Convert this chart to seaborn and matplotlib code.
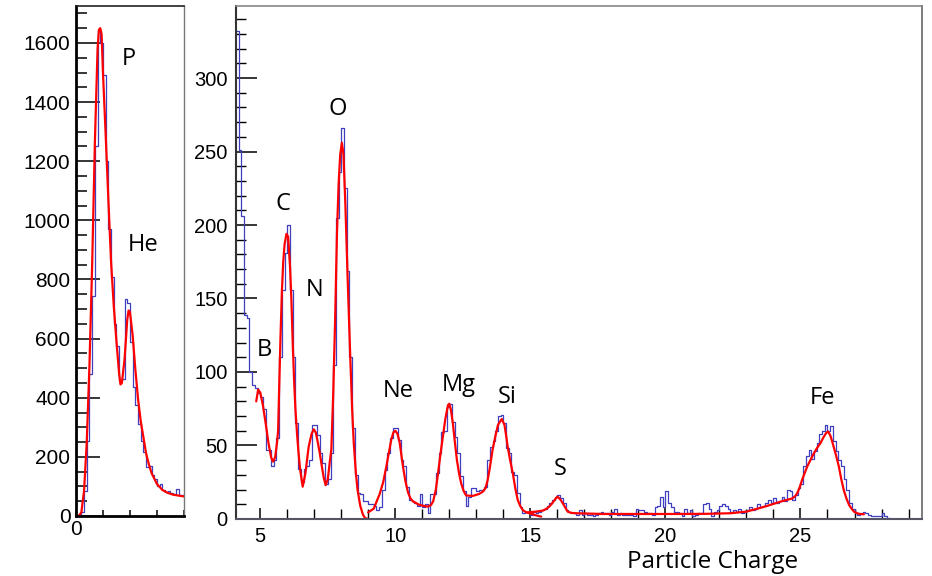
import numpy as np
import pandas as pd
import matplotlib
matplotlib.use('Agg')
import matplotlib.pyplot as plt
from matplotlib.ticker import MultipleLocator
import seaborn as sns

# ---- left panel: P / He, 0.1 wide bins from 0 to 4
left_start, left_width = 0.0, 0.1
hist_left = [0, 5, 15, 85, 255, 480, 745, 1250, 1640, 1600,
             1490, 1200, 970, 810, 650, 575, 455, 465, 735, 720,
             590, 435, 375, 310, 255, 215, 165, 168, 140, 125,
             100, 108, 88, 80, 84, 78, 75, 90, 72, 70]

fit_left_x = [0.1, 0.2, 0.3, 0.4, 0.5, 0.6, 0.7, 0.8, 0.85, 0.9, 0.95, 1.0, 1.1, 1.2, 1.3,
              1.4, 1.5, 1.6, 1.65, 1.7, 1.8, 1.9, 1.95, 2.0, 2.1, 2.2, 2.3, 2.4, 2.5,
              2.6, 2.7, 2.8, 3.0, 3.2, 3.4, 3.6, 3.8, 4.0]
fit_left_y = [0, 12, 85, 250, 510, 850, 1260, 1580, 1645, 1650, 1630, 1500, 1290, 1070, 860,
              710, 590, 480, 445, 450, 530, 665, 695, 690, 610, 495, 395, 320, 265,
              210, 175, 145, 108, 88, 78, 72, 69, 66]

# ---- right panel: heavier nuclei, 0.1 wide bins from 4.1
right_start, right_width = 4.1, 0.1
hist_right = [332, 251, 206, 139, 137, 100, 91, 89, 86, 83,
              75, 47, 47, 36, 40, 55, 110, 156, 181, 200,
              156, 110, 65, 34, 25, 34, 36, 40, 64, 64,
              57, 45, 38, 24, 27, 45, 105, 205, 236, 266,
              225, 169, 110, 62, 30, 18, 17, 12, 12, 10,
              10, 9, 6, 8, 20, 33, 45, 55, 62, 62,
              54, 40, 36, 22, 13, 12, 11, 9, 17, 8,
              10, 4, 17, 17, 31, 45, 59, 60, 76, 78,
              66, 56, 45, 29, 19, 9, 15, 21, 21, 19,
              20, 20, 22, 40, 49, 53, 60, 70, 71, 65,
              48, 45, 32, 30, 18, 8, 4, 5, 5, 3,
              5, 4, 5, 6, 7, 9, 11, 13, 15, 16,
              14, 11, 6, 5, 4, 4, 3, 6, 3, 4,
              3, 3, 2, 3, 4, 5, 4, 4, 3, 5,
              7, 3, 4, 3, 3, 3, 3, 2, 7, 6,
              6, 5, 4, 4, 3, 8, 9, 15, 8, 19,
              11, 8, 5, 5, 4, 2, 7, 4, 6, 2,
              3, 4, 4, 10, 11, 7, 2, 5, 6, 9,
              10, 9, 7, 5, 6, 5, 7, 4, 5, 6,
              8, 6, 7, 10, 8, 9, 11, 13, 11, 14,
              11, 12, 15, 12, 20, 19, 13, 16, 21, 24,
              36, 43, 47, 41, 46, 52, 58, 60, 64, 60,
              63, 53, 46, 40, 36, 27, 20, 11, 7, 4,
              3, 4, 5, 4, 3, 2, 2, 2, 2, 4,
              2, 1]

# fit pieces (B..O, Ne..Si, S..Fe)
fit1_x = [4.85, 4.92, 5.0, 5.1, 5.2, 5.3, 5.4, 5.47, 5.55, 5.62, 5.66, 5.7, 5.75, 5.8, 5.85,
          5.9, 5.97, 6.03, 6.1, 6.15, 6.2, 6.25, 6.3, 6.36, 6.42, 6.48, 6.57, 6.67, 6.79,
          6.9, 6.98, 7.05, 7.1, 7.2, 7.26, 7.35, 7.42, 7.5, 7.58, 7.63, 7.7, 7.77, 7.84,
          7.9, 7.96, 8.02, 8.08, 8.15, 8.23, 8.32, 8.4, 8.46, 8.54, 8.6, 8.7, 8.8, 8.88, 8.96]
fit1_y = [80, 88, 86, 77, 65, 52, 42, 39, 42, 52, 60, 90, 125, 155, 175,
          187, 194, 192, 172, 150, 120, 95, 75, 58, 44, 33, 22, 31, 49,
          58, 61, 59, 55, 45, 38, 28, 23, 27, 40, 47, 85, 135, 195,
          228, 248, 256, 248, 214, 166, 116, 75, 52, 31, 20, 9, 3, 0.5, 0.3]

fit2_x = [8.99, 9.2, 9.42, 9.55, 9.67, 9.78, 9.85, 9.93, 10.0, 10.08, 10.16, 10.22, 10.28,
          10.37, 10.47, 10.56, 10.65, 10.9, 11.2, 11.32, 11.4, 11.5, 11.58, 11.67, 11.76,
          11.85, 11.95, 12.0, 12.06, 12.13, 12.2, 12.28, 12.36, 12.44, 12.53, 12.62, 12.87,
          13.1, 13.24, 13.34, 13.42, 13.5, 13.6, 13.7, 13.8, 13.94, 14.04, 14.1, 14.16,
          14.25, 14.35, 14.44, 14.53, 14.62, 14.72, 14.85, 14.96, 15.2, 15.4]
fit2_y = [4.5, 7, 17, 25, 36, 47, 54, 59, 60, 58, 52, 44, 36,
          26, 18, 14, 12, 9.5, 8.4, 9.5, 12, 20, 31, 44, 56,
          68, 77.5, 78.4, 74, 65, 53, 40, 31, 24, 19, 16, 15.7,
          17, 18.6, 21, 26.6, 35, 47, 56, 64, 68, 64, 57, 49,
          40, 31, 21, 13, 9, 6, 4.5, 3.9, 2.5, 1.6]

fit3_x = [14.9, 15.2, 15.46, 15.6, 15.7, 15.8, 15.9, 16.0, 16.1, 16.2, 16.3, 16.38, 16.5,
          16.69, 17.67, 18.66, 19.5, 20.5, 21.5, 22.4, 23.0, 23.4, 23.77, 24.26, 24.5,
          24.7, 24.8, 24.88, 24.96, 25.06, 25.15, 25.25, 25.38, 25.5, 25.62, 25.74, 25.85,
          25.95, 26.02, 26.1, 26.17, 26.23, 26.32, 26.42, 26.5, 26.6, 26.7, 26.8, 26.9,
          26.98, 27.1, 27.2, 27.35]
fit3_y = [4.5, 5, 5.7, 7, 8.4, 10.5, 13, 15.2, 13.5, 10.7, 7.5, 5, 4.2,
          3.9, 3.4, 3.4, 3.4, 3.4, 3.5, 3.9, 5, 7, 8.9, 11.8, 13,
          14, 15.5, 17.5, 21, 26.6, 31, 35.7, 40.5, 44.8, 48.5, 51.6, 55.5,
          58.5, 59.5, 57, 53, 49, 43, 35.7, 28, 19.8, 14, 9.5, 6.8,
          5, 3.9, 3.4, 3.2]

left_labels = ['P', 'He']
left_label_pos = [(1.95, 1545), (2.47, 915)]
right_labels = ['B', 'C', 'N', 'O', 'Ne', 'Mg', 'Si', 'S', 'Fe']
right_label_pos = [(5.15, 115), (5.85, 214), (7.0, 156), (7.85, 279), (10.11, 87),
                   (12.33, 91), (14.15, 83), (16.11, 34), (25.81, 82)]

hist_color = '#3f3fc0'
fit_color = '#ff0000'

sns.set_style('white')
plt.rcParams['font.family'] = ['Liberation Sans', 'DejaVu Sans']
plt.rcParams['text.color'] = 'black'
plt.rcParams['xtick.color'] = 'black'
plt.rcParams['ytick.color'] = 'black'

fig = plt.figure(figsize=(9.32, 5.76), dpi=100)
ax1 = fig.add_axes([0.0815, 0.1042, 0.1159, 0.8854])
ax2 = fig.add_axes([0.2532, 0.099, 0.7361, 0.8906])


def draw_hist(ax, counts, start, width):
    edges = start + width * np.arange(len(counts) + 1)
    df = pd.DataFrame({'charge': edges[:-1] + width / 2, 'n': counts})
    sns.histplot(data=df, x='charge', weights='n', bins=list(edges), element='step',
                 fill=False, color=hist_color, linewidth=0.9, ax=ax)


# left panel
draw_hist(ax1, hist_left, left_start, left_width)
sns.lineplot(x=fit_left_x, y=fit_left_y, sort=False, estimator=None,
             color=fit_color, linewidth=1.6, ax=ax1)
ax1.set_xlim(0, 4)
ax1.set_ylim(0, 1725)
ax1.set_xticks([0, 1, 2, 3, 4])
ax1.set_xticklabels(['0', '', '', '', ''])
ax1.yaxis.set_major_locator(MultipleLocator(200))
ax1.yaxis.set_minor_locator(MultipleLocator(50))
ax1.tick_params(which='both', left=True, bottom=True, direction='in')
ax1.tick_params(axis='y', which='major', length=17, width=1.1, labelsize=15, pad=4)
ax1.tick_params(axis='y', which='minor', length=8, width=1.1)
ax1.tick_params(axis='x', which='major', length=4.5, width=1.1, labelsize=15, pad=3)
for s, (c, w) in {'left': ('black', 2.0), 'bottom': ('black', 2.0),
                  'top': ('#222222', 1.2), 'right': ('#777777', 1.0)}.items():
    ax1.spines[s].set_color(c)
    ax1.spines[s].set_linewidth(w)

for t, (x, y) in zip(left_labels, left_label_pos):
    ax1.text(x, y, t, ha='center', va='center', fontsize=17, family=['Open Sans'])

# right panel
draw_hist(ax2, hist_right, right_start, right_width)
for fx, fy in [(fit1_x, fit1_y), (fit2_x, fit2_y), (fit3_x, fit3_y)]:
    sns.lineplot(x=fx, y=fy, sort=False, estimator=None,
                 color=fit_color, linewidth=1.6, ax=ax2)
ax2.set_xlim(4.1, 29.5)
ax2.set_ylim(0, 349)
ax2.xaxis.set_major_locator(MultipleLocator(5))
ax2.xaxis.set_minor_locator(MultipleLocator(1))
ax2.yaxis.set_major_locator(MultipleLocator(50))
ax2.yaxis.set_minor_locator(MultipleLocator(10))
ax2.tick_params(which='both', left=True, bottom=True, direction='in')
ax2.tick_params(axis='y', which='major', length=15, width=1.1, labelsize=14.5, pad=6)
ax2.tick_params(axis='y', which='minor', length=7.5, width=1.0)
ax2.tick_params(axis='x', which='major', length=8, width=1.1, labelsize=14.5, pad=6)
ax2.tick_params(axis='x', which='minor', length=7, width=1.0)
for s, (c, w) in {'left': ('#333333', 1.5), 'bottom': ('#555566', 1.5),
                  'top': ('#888888', 1.2), 'right': ('#666666', 1.2)}.items():
    ax2.spines[s].set_color(c)
    ax2.spines[s].set_linewidth(w)

for t, (x, y) in zip(right_labels, right_label_pos):
    ax2.text(x, y, t, ha='center', va='center', fontsize=17, family=['Open Sans'])

for ax in (ax1, ax2):
    ax.set_xlabel('')
    ax.set_ylabel('')

fig.text(713 / 932, 1 - 562 / 576, 'Particle Charge', ha='center', va='center',
         fontsize=17.5, family=['Open Sans'])

fig.savefig('out.png', dpi=100)
